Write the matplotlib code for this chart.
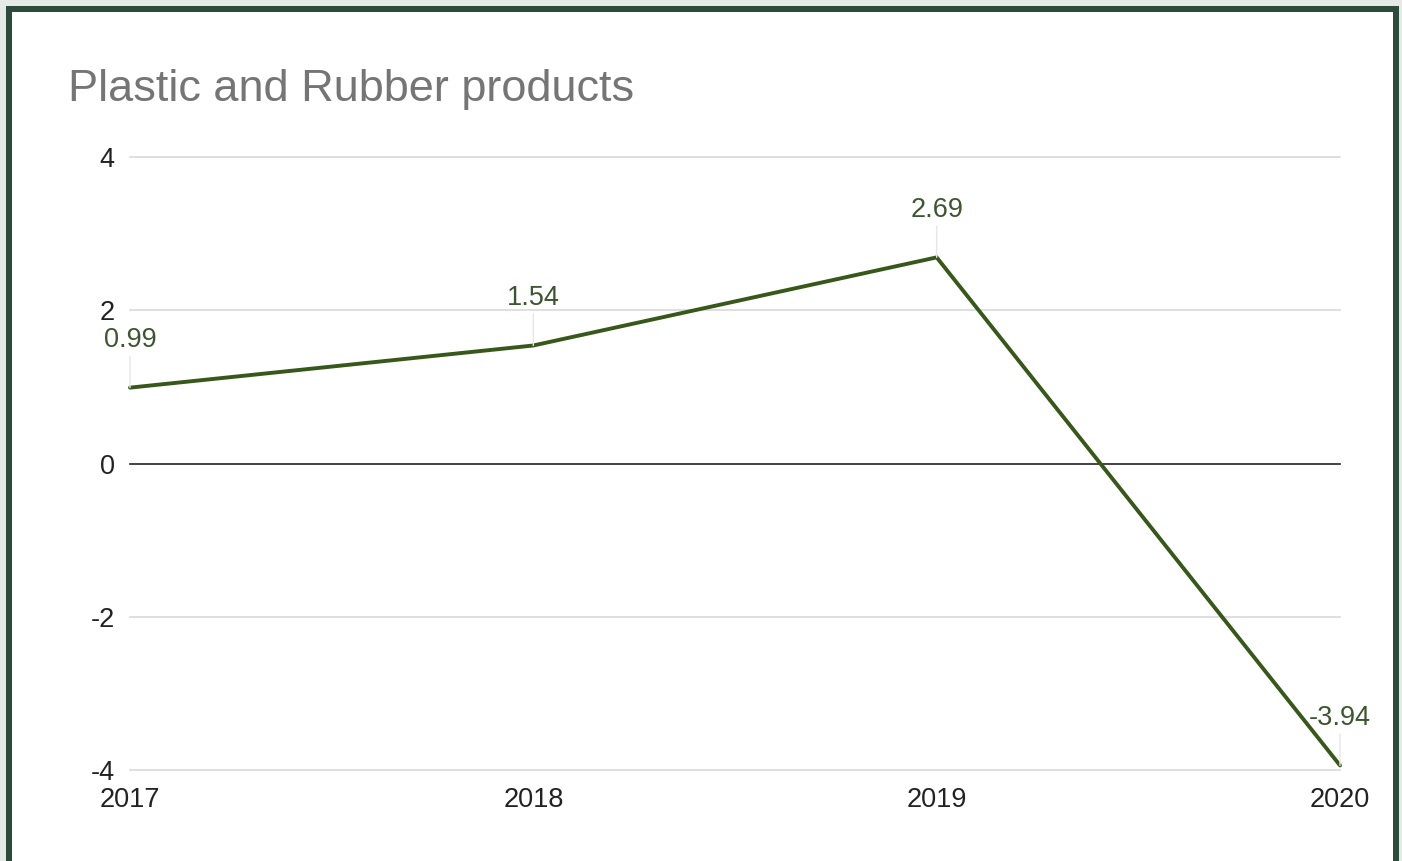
import matplotlib
matplotlib.use('Agg')
import matplotlib.pyplot as plt
from matplotlib.patches import Rectangle

plt.rcParams['font.family'] = ['Liberation Sans', 'DejaVu Sans']
plt.rcParams['axes.unicode_minus'] = False

years = ['2017', '2018', '2019', '2020']
values = [0.99, 1.54, 2.69, -3.94]
y_ticks = [-4, -2, 0, 2, 4]

W, H = 1402, 861
fig = plt.figure(figsize=(W / 100, H / 100), dpi=100)
fig.patch.set_facecolor('#e6e9e6')

# frame: dark green border, white inside (bottom edge cut off)
fig.add_artist(Rectangle((6 / W, 0), (1399 - 6) / W, (H - 6) / H,
                         transform=fig.transFigure, facecolor='#2d4b3b',
                         edgecolor='none', zorder=0))
fig.add_artist(Rectangle((12 / W, 0), (1393 - 12) / W, (H - 12) / H,
                         transform=fig.transFigure, facecolor='white',
                         edgecolor='none', zorder=0))

ax = fig.add_axes([130 / W, 1 - 770 / H, (1340 - 130) / W, (770 - 157) / H])
ax.set_facecolor('none')

x = list(range(len(years)))
ax.plot(x, values, color='#38571a', linewidth=2.8, zorder=3,
        solid_joinstyle='miter', solid_capstyle='round')

for xi, v in zip(x, values):
    ann = ax.annotate(f'{v:.2f}', xy=(xi, v), xytext=(0, 34), textcoords='offset points',
                      ha='center', va='center', fontsize=19.5, color='#3d5530',
                      arrowprops=dict(arrowstyle='-', color='#e6e6e6', lw=1,
                                      shrinkA=0, shrinkB=0), zorder=4)
    ann.arrow_patch.set_zorder(2)

ax.set_xlim(0, 3)
ax.set_ylim(-4, 4)
ax.set_yticks(y_ticks)
ax.set_yticklabels([str(t) for t in y_ticks])
ax.set_xticks(x)
ax.set_xticklabels(years)
ax.tick_params(axis='both', length=0, labelsize=19.5, colors='#222222')
ax.tick_params(axis='y', pad=11)
ax.tick_params(axis='x', pad=12)

for t in y_ticks:
    if t == 0:
        ax.axhline(0, color='#222222', linewidth=1.2, zorder=2)
    else:
        ax.axhline(t, color='#d9d9d9', linewidth=1.2, zorder=1)

for s in ax.spines.values():
    s.set_visible(False)
for line in ax.lines:
    line.set_clip_on(False)

fig.text(68 / W, 1 - 90 / H, 'Plastic and Rubber products', fontsize=32.5,
         color='#757575', ha='left', va='center')

fig.savefig('out.png', dpi=100, facecolor=fig.get_facecolor())
